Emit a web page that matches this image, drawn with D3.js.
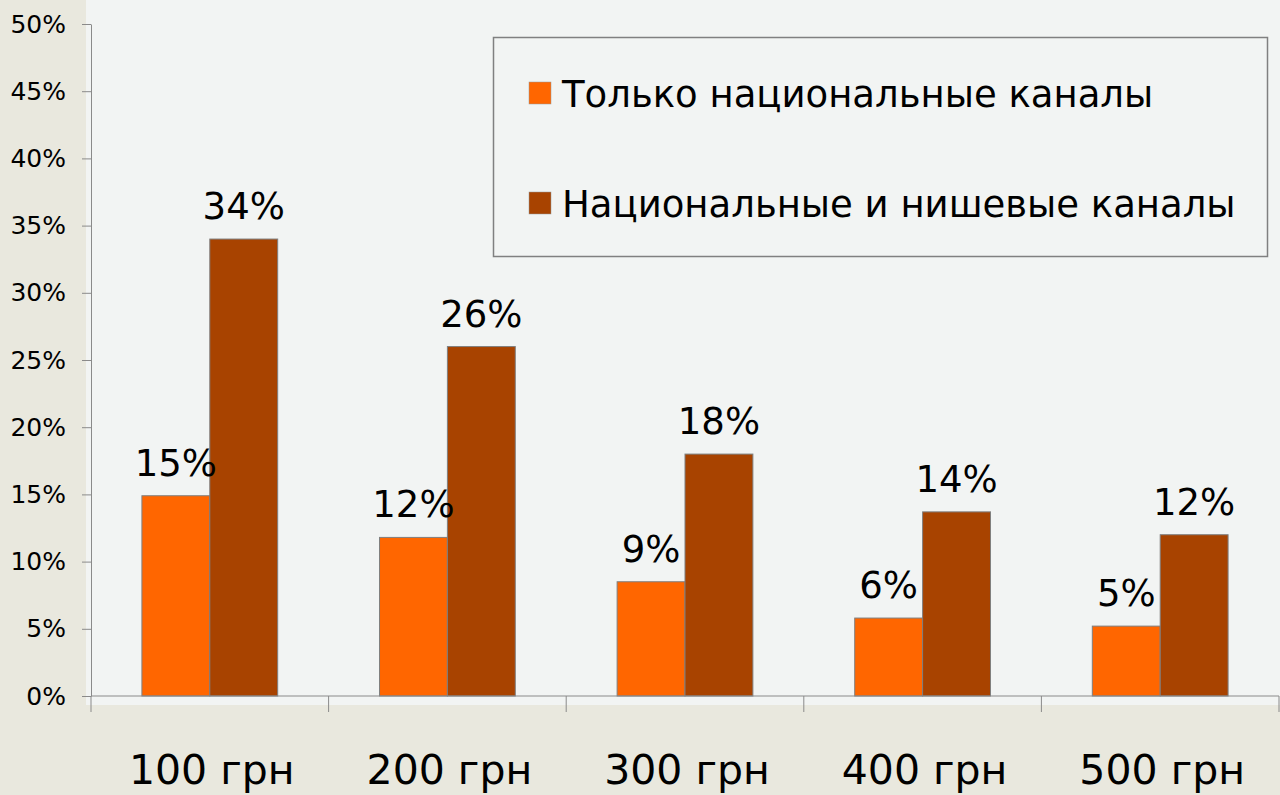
<!DOCTYPE html>
<html>
<head>
<meta charset="utf-8">
<script src="https://cdn.jsdelivr.net/npm/d3@7"></script>
<style>
  html, body { margin: 0; padding: 0; background: #e9e8de; }
  svg { display: block; }
  text { font-family: "DejaVu Sans", Verdana, sans-serif; fill: #000; }
</style>
</head>
<body>
<div id="grafica"></div>
<script>
  // datos
  const categorias = ["100 грн", "200 грн", "300 грн", "400 грн", "500 грн"];
  const series = ["Только национальные каналы", "Национальные и нишевые каналы"];
  const soloNacionales = [0.149, 0.118, 0.085, 0.058, 0.052];
  const nacionalesNicho = [0.34, 0.26, 0.18, 0.137, 0.12];
  const etiquetasNac = ["15%", "12%", "9%", "6%", "5%"];
  const etiquetasNicho = ["34%", "26%", "18%", "14%", "12%"];
  const ticksY = [0, 0.05, 0.1, 0.15, 0.2, 0.25, 0.3, 0.35, 0.4, 0.45, 0.5];
  const colores = ["#ff6600", "#a84300"];

  const width = 1280, height = 795;

  const svg = d3.select("#grafica")
    .append("svg")
    .attr("width", width)
    .attr("height", height);

  // fondo del area de trazado
  svg.append("rect")
    .attr("x", 86).attr("y", 0)
    .attr("width", width - 86).attr("height", 705)
    .attr("fill", "#f2f4f3");

  const y = d3.scaleLinear().domain([0, 0.5]).range([696, 24]);
  const x = d3.scaleBand().domain(categorias).range([91, 1279]);
  const xs = d3.scaleBand().domain(series).range([0, x.bandwidth()]).paddingOuter(0.75);

  // eje Y
  const ejeY = svg.append("g")
    .attr("transform", "translate(91,0)")
    .call(d3.axisLeft(y).tickValues(ticksY).tickFormat(d3.format(".0%")).tickSize(9).tickSizeOuter(0).tickPadding(16));
  ejeY.select(".domain").attr("stroke", "#8a8a8a");
  ejeY.selectAll(".tick line").attr("stroke", "#8a8a8a");
  ejeY.selectAll(".tick text")
    .attr("font-size", 25)
    .attr("font-family", "DejaVu Sans")
    .attr("fill", "#000");

  // barras
  const datos = categorias.map((c, i) => ({
    cat: c,
    valores: [
      { serie: series[0], v: soloNacionales[i], label: etiquetasNac[i], color: colores[0] },
      { serie: series[1], v: nacionalesNicho[i], label: etiquetasNicho[i], color: colores[1] }
    ]
  }));

  const grupos = svg.selectAll("g.grupo")
    .data(datos)
    .enter()
    .append("g")
    .attr("class", "grupo")
    .attr("transform", d => `translate(${x(d.cat)},0)`);

  grupos.selectAll("rect")
    .data(d => d.valores)
    .enter()
    .append("rect")
    .attr("x", d => xs(d.serie))
    .attr("y", d => y(d.v))
    .attr("width", xs.bandwidth())
    .attr("height", d => y(0) - y(d.v))
    .attr("fill", d => d.color)
    .attr("stroke", "#7f7f7f")
    .attr("stroke-width", 1);

  grupos.selectAll("text.valor")
    .data(d => d.valores)
    .enter()
    .append("text")
    .attr("class", "valor")
    .attr("x", d => xs(d.serie) + xs.bandwidth() / 2)
    .attr("y", d => y(d.v) - 20)
    .attr("text-anchor", "middle")
    .attr("font-size", 37)
    .text(d => d.label);

  // eje X
  const ejeX = svg.append("g")
    .attr("transform", "translate(0,696)")
    .call(d3.axisBottom(x).tickSize(0).tickPadding(0).tickFormat(""));
  ejeX.select(".domain").remove();
  ejeX.append("line")
    .attr("x1", 91).attr("x2", 1279)
    .attr("stroke", "#8a8a8a");
  ejeX.selectAll("line.sep")
    .data(categorias.concat(["fin"]))
    .enter()
    .append("line")
    .attr("class", "sep")
    .attr("x1", (d, i) => i < categorias.length ? x(d) : x.range()[1])
    .attr("x2", (d, i) => i < categorias.length ? x(d) : x.range()[1])
    .attr("y1", 0).attr("y2", 16)
    .attr("stroke", "#8a8a8a");

  // etiquetas de categoria
  svg.selectAll("text.cat")
    .data(categorias)
    .enter()
    .append("text")
    .attr("class", "cat")
    .attr("x", d => x(d) + x.bandwidth() / 2 + 2)
    .attr("y", 784)
    .attr("text-anchor", "middle")
    .attr("font-size", 41)
    .text(d => d);

  // leyenda
  const leyenda = svg.append("g");
  leyenda.append("rect")
    .attr("x", 493.5).attr("y", 37.5)
    .attr("width", 774).attr("height", 219)
    .attr("fill", "#f2f4f3")
    .attr("stroke", "#808080")
    .attr("stroke-width", 1.5);

  const items = leyenda.selectAll("g.item")
    .data(series)
    .enter()
    .append("g")
    .attr("class", "item")
    .attr("transform", (d, i) => `translate(0,${i * 110})`);

  items.append("rect")
    .attr("x", 529).attr("y", 82)
    .attr("width", 22).attr("height", 22)
    .attr("fill", (d, i) => colores[i])
    .attr("stroke", "#999")
    .attr("stroke-width", 0.5);

  items.append("text")
    .attr("x", 562)
    .attr("y", 107)
    .attr("font-size", 37)
    .text(d => d);
</script>
</body>
</html>
